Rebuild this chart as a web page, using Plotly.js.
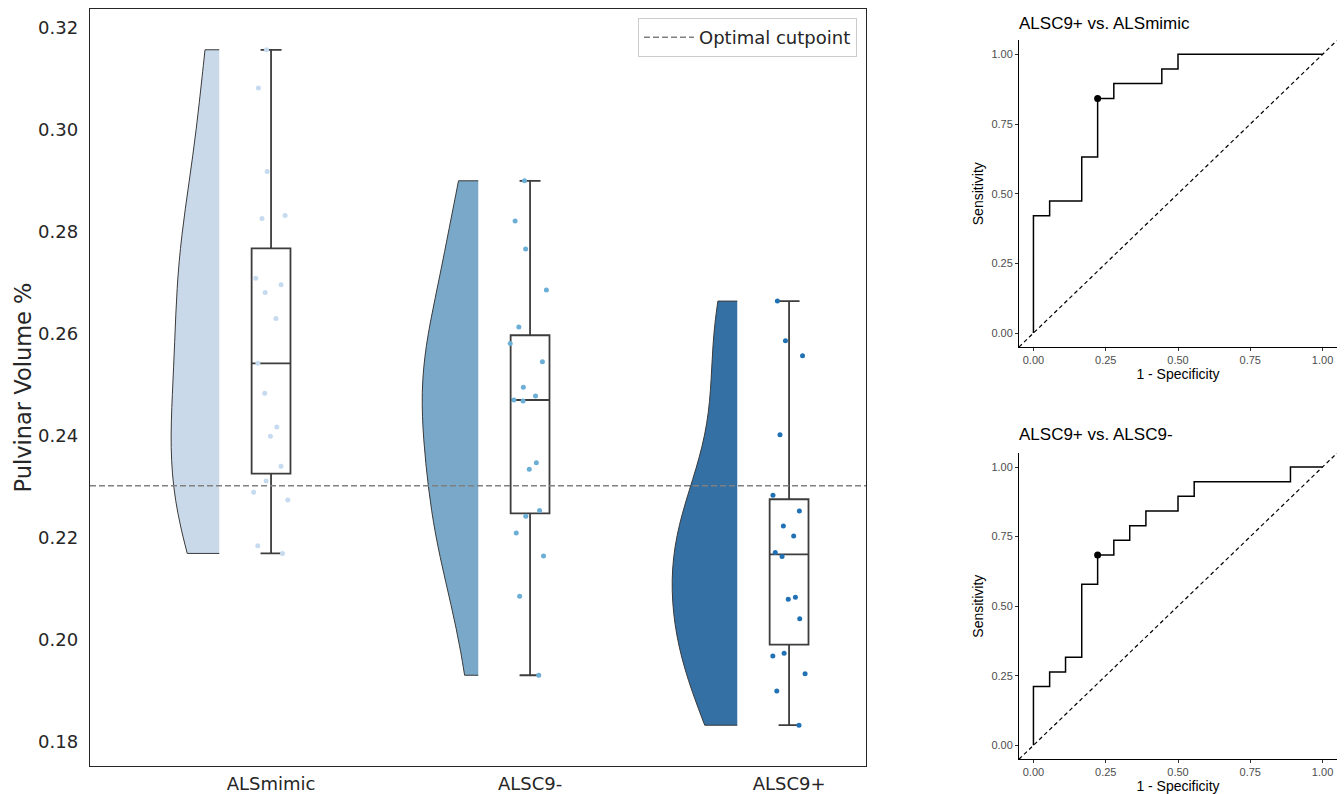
<!DOCTYPE html>
<html><head><meta charset="utf-8">
<script src="https://cdn.plot.ly/plotly-3.0.1.min.js"></script>
<style>html,body{margin:0;padding:0;background:#fff}#chart{width:1344px;height:794px}</style>
</head><body><div id="chart"></div>
<script>
// ---- data ----
const groups = ['ALSmimic', 'ALSC9-', 'ALSC9+'];
const alsMimic = [0.3157, 0.3082, 0.2918, 0.2832, 0.2826, 0.2709, 0.2696, 0.2681, 0.2630, 0.2542, 0.2483, 0.2417, 0.2399, 0.2340, 0.2311, 0.2289, 0.2274, 0.2184, 0.2169];
const alsC9neg = [0.2900, 0.2821, 0.2766, 0.2686, 0.2613, 0.2581, 0.2545, 0.2495, 0.2478, 0.2470, 0.2468, 0.2347, 0.2334, 0.2253, 0.2242, 0.2209, 0.2164, 0.2085, 0.1930];
const alsC9pos = [0.2664, 0.2586, 0.2557, 0.2402, 0.2283, 0.2252, 0.2223, 0.2203, 0.2171, 0.2163, 0.2083, 0.2079, 0.2041, 0.1973, 0.1968, 0.1933, 0.1899, 0.1832];
const optimalCutpoint = 0.2302;

const roc1Title = 'ALSC9+ vs. ALSmimic';
const roc1Fpr = [0, 0, 0.056, 0.056, 0.167, 0.167, 0.222, 0.222, 0.278, 0.278, 0.444, 0.444, 0.5, 0.5, 1];
const roc1Tpr = [0, 0.421, 0.421, 0.474, 0.474, 0.632, 0.632, 0.842, 0.842, 0.895, 0.895, 0.947, 0.947, 1, 1];
const roc1Best = [0.222, 0.842];

const roc2Title = 'ALSC9+ vs. ALSC9-';
const roc2Fpr = [0, 0, 0.056, 0.056, 0.111, 0.111, 0.167, 0.167, 0.222, 0.222, 0.278, 0.278, 0.333, 0.333, 0.389, 0.389, 0.5, 0.5, 0.556, 0.556, 0.889, 0.889, 1];
const roc2Tpr = [0, 0.211, 0.211, 0.263, 0.263, 0.316, 0.316, 0.579, 0.579, 0.684, 0.684, 0.737, 0.737, 0.789, 0.789, 0.842, 0.842, 0.895, 0.895, 0.947, 0.947, 1, 1];
const roc2Best = [0.222, 0.684];

const rocTicks = [0, 0.25, 0.5, 0.75, 1];

// ---- styles ----
const groupData = [alsMimic, alsC9neg, alsC9pos];
const pointColors = ['#c6dbef', '#6baed6', '#2171b5'];
const violinColors = ['#cad9ea', '#79a8c8', '#3470a3'];
const violinWidths = [0.371, 0.432, 0.502];
const violinOffset = -0.2;
const boxWidth = 0.15;
const xRange = [0.301, 3.297];
const mainFont = 'DejaVu Sans, sans-serif';
const rocFont = 'Liberation Sans, Arial, sans-serif';

function quantile7(arr, p) {
  const s = arr.slice().sort((a, b) => a - b);
  const h = (s.length - 1) * p;
  const lo = Math.floor(h), hi = Math.ceil(h);
  return s[lo] + (h - lo) * (s[hi] - s[lo]);
}
function stats(arr) {
  const q1 = quantile7(arr, 0.25), med = quantile7(arr, 0.5), q3 = quantile7(arr, 0.75);
  const iqr = q3 - q1;
  const lf = Math.min(...arr.filter(v => v >= q1 - 1.5 * iqr));
  const uf = Math.max(...arr.filter(v => v <= q3 + 1.5 * iqr));
  return {q1, med, q3, lf, uf};
}
function scottBw(arr) {
  const n = arr.length;
  const m = arr.reduce((a, b) => a + b, 0) / n;
  const sd = Math.sqrt(arr.reduce((a, b) => a + (b - m) * (b - m), 0) / (n - 1));
  return sd * Math.pow(n, -0.2);
}

const traces = [];
groupData.forEach((d, i) => {
  const pos = i + 1;
  traces.push({
    type: 'violin', x0: pos + violinOffset, y: d, side: 'negative', width: violinWidths[i],
    spanmode: 'hard', bandwidth: scottBw(d), points: false,
    box: {visible: false}, meanline: {visible: false},
    fillcolor: violinColors[i], line: {color: '#3a3a3a', width: 1}, opacity: 1,
    showlegend: false, hoverinfo: 'skip', xaxis: 'x', yaxis: 'y'
  });
});
groupData.forEach((d, i) => {
  const s = stats(d);
  traces.push({
    type: 'box', x: [i + 1], q1: [s.q1], median: [s.med], q3: [s.q3],
    lowerfence: [s.lf], upperfence: [s.uf], width: boxWidth, boxpoints: false,
    fillcolor: '#ffffff', line: {color: '#3d3d3d', width: 1.8}, whiskerwidth: 0.54,
    showlegend: false, hoverinfo: 'skip', xaxis: 'x', yaxis: 'y'
  });
});
groupData.forEach((d, i) => {
  traces.push({
    type: 'box', x0: i + 1, y: d, width: 0.17, boxpoints: 'all', jitter: 1, pointpos: 0,
    fillcolor: 'rgba(0,0,0,0)', line: {color: 'rgba(0,0,0,0)', width: 0}, whiskerwidth: 0,
    marker: {color: pointColors[i], size: 5, line: {width: 0}},
    showlegend: false, hoverinfo: 'skip', xaxis: 'x', yaxis: 'y'
  });
});
traces.push({
  type: 'scatter', mode: 'lines', x: xRange, y: [optimalCutpoint, optimalCutpoint],
  name: 'Optimal cutpoint', line: {color: '#808080', width: 1.5, dash: '6px,3px'},
  showlegend: true, xaxis: 'x', yaxis: 'y', cliponaxis: true
});

// ROC curves
[[roc1Fpr, roc1Tpr, roc1Best, 'x2', 'y2'], [roc2Fpr, roc2Tpr, roc2Best, 'x3', 'y3']].forEach(r => {
  traces.push({type: 'scatter', mode: 'lines', x: r[0], y: r[1], line: {color: '#000', width: 1.5},
    showlegend: false, hoverinfo: 'skip', xaxis: r[3], yaxis: r[4]});
  traces.push({type: 'scatter', mode: 'markers', x: [r[2][0]], y: [r[2][1]], marker: {color: '#000', size: 7},
    showlegend: false, hoverinfo: 'skip', xaxis: r[3], yaxis: r[4]});
});

const W = 1344, H = 794;
const px = v => v / W, py = v => (H - v) / H;

function rocX(anchor) {
  return {domain: [px(1019), px(1337)], anchor: anchor, range: [-0.05, 1.05], tickvals: rocTicks, tickformat: '.2f',
    showline: true, linecolor: '#000', linewidth: 1, ticks: 'outside', ticklen: 3, tickcolor: '#333', tickwidth: 1,
    showgrid: false, zeroline: false, tickfont: {family: rocFont, size: 11, color: '#4d4d4d'},
    title: {text: '1 - Specificity', font: {family: rocFont, size: 14, color: '#000'}, standoff: 0}};
}
function rocY(anchor, dom) {
  return {domain: dom, anchor: anchor, range: [-0.05, 1.05], tickvals: rocTicks, tickformat: '.2f',
    showline: true, linecolor: '#000', linewidth: 1, ticks: 'outside', ticklen: 3, tickcolor: '#333', tickwidth: 1,
    showgrid: false, zeroline: false, tickfont: {family: rocFont, size: 11, color: '#4d4d4d'},
    title: {text: 'Sensitivity', font: {family: rocFont, size: 14, color: '#000'}, standoff: 4}};
}

const layout = {
  width: W, height: H, margin: {l: 0, r: 0, t: 0, b: 0}, paper_bgcolor: '#fff', plot_bgcolor: '#fff',
  showlegend: true, violinmode: 'overlay', boxmode: 'overlay',
  xaxis: {domain: [px(90), px(866)], anchor: 'y', range: xRange, tickvals: [1, 2, 3], ticktext: groups,
    showline: true, mirror: true, linecolor: '#262626', linewidth: 1.25, showgrid: false, zeroline: false,
    ticks: '', ticklabelstandoff: 1, tickfont: {family: mainFont, size: 18, color: '#262626'}},
  yaxis: {domain: [py(766), py(9)], anchor: 'x', range: [0.1752, 0.3237], tick0: 0.18, dtick: 0.02, tickformat: '.2f',
    showline: true, mirror: true, linecolor: '#262626', linewidth: 1.25, showgrid: false, zeroline: false,
    ticks: '', ticklabelstandoff: 7, tickfont: {family: mainFont, size: 18, color: '#262626'},
    title: {text: 'Pulvinar Volume %', font: {family: mainFont, size: 22.5, color: '#262626'}, standoff: 0}},
  xaxis2: rocX('y2'), yaxis2: rocY('x2', [py(347), py(40.4)]),
  xaxis3: rocX('y3'), yaxis3: rocY('x3', [py(759.2), py(453.1)]),
  legend: {x: px(857), xanchor: 'right', y: py(18), yanchor: 'top', bgcolor: '#fff', bordercolor: '#cccccc', borderwidth: 1,
    itemwidth: 50, font: {family: mainFont, size: 18, color: '#262626'}},
  shapes: [
    {type: 'line', xref: 'x2', yref: 'y2', x0: -0.05, y0: -0.05, x1: 1.05, y1: 1.05, line: {color: '#000', width: 1.2, dash: '4px,3px'}},
    {type: 'line', xref: 'x3', yref: 'y3', x0: -0.05, y0: -0.05, x1: 1.05, y1: 1.05, line: {color: '#000', width: 1.2, dash: '4px,3px'}}
  ],
  annotations: [
    {text: roc1Title, xref: 'paper', yref: 'paper', x: px(1017), y: py(24), xanchor: 'left', yanchor: 'middle', showarrow: false,
      font: {family: rocFont, size: 17, color: '#000'}},
    {text: roc2Title, xref: 'paper', yref: 'paper', x: px(1017), y: py(435), xanchor: 'left', yanchor: 'middle', showarrow: false,
      font: {family: rocFont, size: 17, color: '#000'}}
  ]
};

Plotly.newPlot('chart', traces, layout, {displayModeBar: false, staticPlot: true});
</script>
</body></html>
